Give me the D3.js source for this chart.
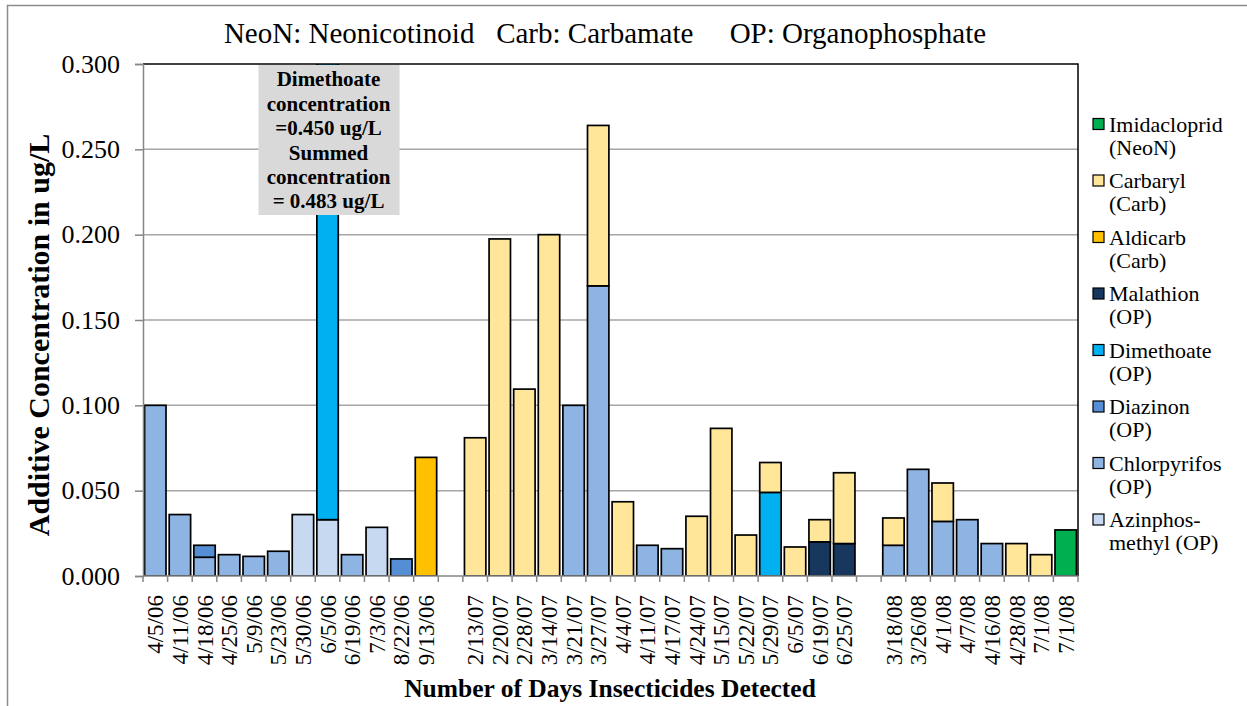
<!DOCTYPE html>
<html>
<head>
<meta charset="utf-8">
<script src="https://cdn.jsdelivr.net/npm/d3@7"></script>
<style>
  html, body { margin: 0; padding: 0; background: #fff; }
  svg { display: block; font-family: "Liberation Serif", "Times New Roman", serif; }
</style>
</head>
<body>
<svg id="chart" width="1247" height="706"></svg>
<script>
// Sampling dates; empty strings are spacer columns between seasons
const categories = [
  "4/5/06","4/11/06","4/18/06","4/25/06","5/9/06","5/23/06","5/30/06","6/5/06","6/19/06","7/3/06","8/22/06","9/13/06",
  "",
  "2/13/07","2/20/07","2/28/07","3/14/07","3/21/07","3/27/07","4/4/07","4/11/07","4/17/07","4/24/07","5/15/07","5/22/07","5/29/07","6/5/07","6/19/07","6/25/07",
  "",
  "3/18/08","3/26/08","4/1/08","4/7/08","4/16/08","4/28/08","7/1/08","7/1/08"
];

// Concentrations (ug/L) per insecticide, one value per column
const azinphosMethyl = [0,0,0,0,0,0,0.036,0.033,0,0.0285,0,0, 0, 0,0,0,0,0,0,0,0,0,0,0,0,0,0,0,0, 0, 0,0,0,0,0,0,0,0];
const chlorpyrifos   = [0.100,0.036,0.011,0.0125,0.0115,0.0145,0,0,0.0125,0,0,0, 0, 0,0,0,0,0.100,0.170,0,0.018,0.016,0,0,0,0,0,0,0, 0, 0.018,0.0625,0.032,0.033,0.019,0,0,0];
const diazinon       = [0,0,0.007,0,0,0,0,0,0,0,0.010,0, 0, 0,0,0,0,0,0,0,0,0,0,0,0,0,0,0,0, 0, 0,0,0,0,0,0,0,0];
const dimethoate     = [0,0,0,0,0,0,0,0.450,0,0,0,0, 0, 0,0,0,0,0,0,0,0,0,0,0,0,0.049,0,0,0, 0, 0,0,0,0,0,0,0,0];
const malathion      = [0,0,0,0,0,0,0,0,0,0,0,0, 0, 0,0,0,0,0,0,0,0,0,0,0,0,0,0,0.020,0.019, 0, 0,0,0,0,0,0,0,0];
const aldicarb       = [0,0,0,0,0,0,0,0,0,0,0,0.0695, 0, 0,0,0,0,0,0,0,0,0,0,0,0,0,0,0,0, 0, 0,0,0,0,0,0,0,0];
const carbaryl       = [0,0,0,0,0,0,0,0,0,0,0,0, 0, 0.081,0.1975,0.1095,0.200,0,0.094,0.0435,0,0,0.035,0.0865,0.024,0.0175,0.017,0.013,0.0415, 0, 0.016,0,0.0225,0,0,0.019,0.0125,0];
const imidacloprid   = [0,0,0,0,0,0,0,0,0,0,0,0, 0, 0,0,0,0,0,0,0,0,0,0,0,0,0,0,0,0, 0, 0,0,0,0,0,0,0,0.027];

// Series in stacking order (bottom first)
const seriesKeys   = ["Azinphos-methyl (OP)","Chlorpyrifos (OP)","Diazinon (OP)","Dimethoate (OP)","Malathion (OP)","Aldicarb (Carb)","Carbaryl (Carb)","Imidacloprid (NeoN)"];
const seriesValues = [azinphosMethyl, chlorpyrifos, diazinon, dimethoate, malathion, aldicarb, carbaryl, imidacloprid];
const seriesColors = ["#C6D9F1","#8EB4E3","#558ED5","#00B0F0","#17375E","#FFC000","#FFE699","#00B050"];
// Legend labels, two lines each, listed top to bottom
const legendLines = [
  ["Imidacloprid","(NeoN)"],
  ["Carbaryl","(Carb)"],
  ["Aldicarb","(Carb)"],
  ["Malathion","(OP)"],
  ["Dimethoate","(OP)"],
  ["Diazinon","(OP)"],
  ["Chlorpyrifos","(OP)"],
  ["Azinphos-","methyl (OP)"]
];
const yTicks = [0, 0.05, 0.10, 0.15, 0.20, 0.25, 0.30];
const chartTitle = "NeoN: Neonicotinoid   Carb: Carbamate     OP: Organophosphate";
const yTitle = "Additive Concentration in ug/L";
const xTitle = "Number of Days Insecticides Detected";
const noteLines = ["Dimethoate","concentration","=0.450 ug/L","Summed","concentration","= 0.483 ug/L"];

const svg = d3.select("#chart");
const plot = { left: 143, right: 1078, top: 64, bottom: 576 };

// Outer chart frame
svg.append("rect")
  .attr("x", 7.5).attr("y", 5.5).attr("width", 1400).attr("height", 900)
  .attr("fill", "none").attr("stroke", "#8c8c8c").attr("stroke-width", 1.5);

const idx = d3.range(categories.length);
const x = d3.scaleBand().domain(idx).range([plot.left, plot.right]).padding(0);
const y = d3.scaleLinear().domain([0, 0.3]).range([plot.bottom, plot.top]);

// Horizontal gridlines
svg.append("g").selectAll("line")
  .data(yTicks.filter(t => t > 0 && t < 0.3))
  .join("line")
  .attr("x1", plot.left).attr("x2", plot.right)
  .attr("y1", d => y(d)).attr("y2", d => y(d))
  .attr("stroke", "#a6a6a6").attr("stroke-width", 1.5);

// Stacked bars
const table = idx.map(i => {
  const row = { i };
  seriesKeys.forEach((k, s) => row[k] = seriesValues[s][i]);
  return row;
});
const stacked = d3.stack().keys(seriesKeys)(table);

svg.append("clipPath").attr("id", "plotClip")
  .append("rect")
  .attr("x", plot.left).attr("y", plot.top)
  .attr("width", plot.right - plot.left).attr("height", plot.bottom - plot.top);

const barW = x.bandwidth() * 0.87;
const barOff = (x.bandwidth() - barW) / 2;

svg.append("g").attr("clip-path", "url(#plotClip)")
  .selectAll("g")
  .data(stacked)
  .join("g")
  .attr("fill", (d, s) => seriesColors[s])
  .selectAll("rect")
  .data(d => d.filter(p => p[1] - p[0] > 0))
  .join("rect")
  .attr("x", p => x(p.data.i) + barOff)
  .attr("width", barW)
  .attr("y", p => y(p[1]))
  .attr("height", p => y(p[0]) - y(p[1]))
  .attr("stroke", "#000").attr("stroke-width", 1.7);

// Plot area frame: dark on top/right, grey axes on left/bottom
svg.append("path")
  .attr("d", `M${plot.left},${plot.top}H${plot.right}V${plot.bottom}`)
  .attr("fill", "none").attr("stroke", "#000").attr("stroke-width", 1.5);

// Y axis
const yAxis = svg.append("g")
  .attr("transform", `translate(${plot.left},0)`)
  .call(d3.axisLeft(y).tickValues(yTicks).tickFormat(d3.format(".3f")).tickSize(8).tickPadding(15));
yAxis.select(".domain").attr("stroke", "#868686").attr("stroke-width", 1.5);
yAxis.selectAll(".tick line").attr("stroke", "#868686").attr("stroke-width", 1.5);
yAxis.selectAll(".tick text")
  .attr("font-family", "Liberation Serif").attr("font-size", 26).attr("fill", "#000");

// X axis: labels at column centres, tick marks at column boundaries
const xAxis = svg.append("g")
  .attr("transform", `translate(0,${plot.bottom})`)
  .call(d3.axisBottom(x).tickFormat(i => categories[i]).tickSize(0));
xAxis.select(".domain").remove();
xAxis.selectAll(".tick text")
  .attr("font-family", "Liberation Serif").attr("font-size", 23).attr("fill", "#000")
  .attr("text-anchor", "end")
  .attr("transform", "translate(0,19) rotate(-90)")
  .attr("x", 0).attr("y", 0).attr("dy", "0.35em");

const bounds = idx.map(i => x(i)).concat([plot.right]);
xAxis.append("g").selectAll("line")
  .data(bounds)
  .join("line")
  .attr("x1", d => d).attr("x2", d => d)
  .attr("y1", 0).attr("y2", 6)
  .attr("stroke", "#868686").attr("stroke-width", 1.5);
xAxis.append("line")
  .attr("x1", plot.left).attr("x2", plot.right)
  .attr("stroke", "#868686").attr("stroke-width", 1.5);

// Chart title
svg.append("text")
  .attr("x", 605).attr("y", 43)
  .attr("text-anchor", "middle")
  .attr("font-size", 29)
  .style("white-space", "pre")
  .text(chartTitle);

// Axis titles
svg.append("text")
  .attr("transform", `translate(49,${(plot.top + plot.bottom) / 2 + 15}) rotate(-90)`)
  .attr("text-anchor", "middle")
  .attr("font-size", 30).attr("font-weight", "bold")
  .text(yTitle);

svg.append("text")
  .attr("x", 610).attr("y", 697)
  .attr("text-anchor", "middle")
  .attr("font-size", 25.5).attr("font-weight", "bold")
  .text(xTitle);

// Legend
const legend = svg.append("g").attr("transform", "translate(1093,0)");
const legendItem = legend.selectAll("g")
  .data(legendLines)
  .join("g")
  .attr("transform", (d, k) => `translate(0,${124 + k * 56.5})`);
legendItem.append("rect")
  .attr("x", 0).attr("y", -5.5).attr("width", 11).attr("height", 11)
  .attr("fill", (d, k) => seriesColors[seriesColors.length - 1 - k])
  .attr("stroke", "#000").attr("stroke-width", 1.2);
legendItem.selectAll("text")
  .data(d => d)
  .join("text")
  .attr("x", 16)
  .attr("y", (d, j) => j * 23)
  .attr("dy", "0.35em")
  .attr("font-size", 22)
  .text(d => d);

// Callout for the off-scale dimethoate column
const noteX = x(7) + x.bandwidth() / 2;
const note = svg.append("g");
note.append("rect")
  .attr("x", noteX - 69).attr("y", 65).attr("width", 141).attr("height", 150)
  .attr("fill", "#d9d9d9");
note.selectAll("text")
  .data(noteLines)
  .join("text")
  .attr("x", noteX + 1)
  .attr("y", (d, j) => 79 + j * 24.4)
  .attr("dy", "0.35em")
  .attr("text-anchor", "middle")
  .attr("font-size", 21).attr("font-weight", "bold")
  .text(d => d);
</script>
</body>
</html>
